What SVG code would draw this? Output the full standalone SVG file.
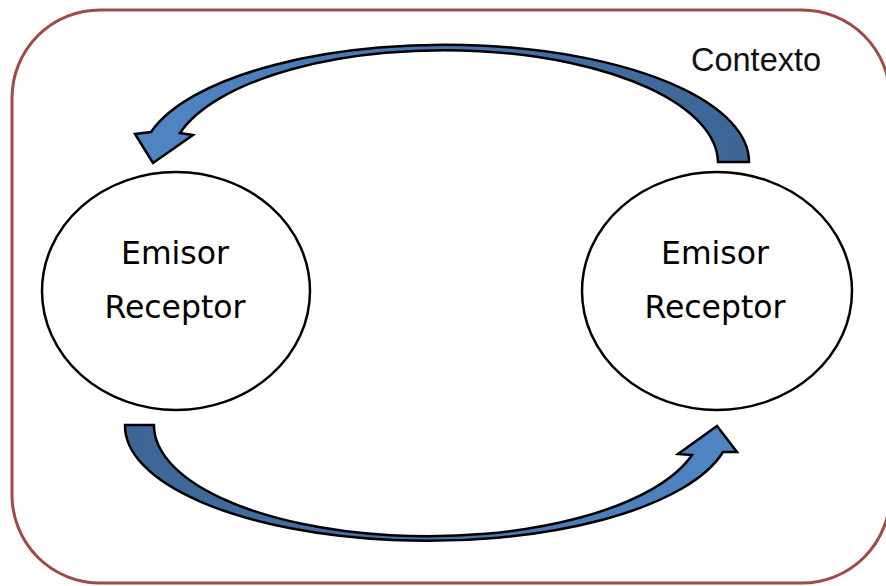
<svg xmlns="http://www.w3.org/2000/svg" width="886" height="586" viewBox="0 0 886 586">
<style>
.frame{fill:#fff;stroke:#a14a48;stroke-width:3}
.node{fill:#fff;stroke:#000;stroke-width:2.5}
.lbl{font-family:"DejaVu Sans",sans-serif;font-size:31.5px;fill:#000;text-anchor:middle}
.ctx{font-family:"Liberation Sans",Arial,sans-serif;font-size:32.5px;fill:#111}
.arr{stroke:#000;stroke-width:2.5;stroke-linejoin:miter}
</style>
<defs>
<linearGradient id="gTop" x1="0" y1="0" x2="1" y2="0">
<stop offset="0" stop-color="#5085c4"/>
<stop offset="1" stop-color="#3d6594"/>
</linearGradient>
<linearGradient id="gBot" x1="0" y1="0" x2="1" y2="0">
<stop offset="0" stop-color="#3d6594"/>
<stop offset="1" stop-color="#5085c4"/>
</linearGradient>
</defs>
<rect class="frame" x="12" y="10" width="878" height="573" rx="88" ry="88"/>
<text class="ctx" x="691" y="71">Contexto</text>
<g id="connectors">
<path class="arr" fill="url(#gTop)" d="M718,162 L749,162 A304,117 0 0 0 151,132 L135,134 L153,163 L193,135 L180,133 A274,113 0 0 1 718,162 Z"/>
<path class="arr" fill="url(#gBot)" d="M125,425 A303,115 0 0 0 723,452 L737,452 L717,426 L678,454 L692,455 A274,111 0 0 1 154,425 Z"/>
</g>
<g id="node-left">
<ellipse class="node" cx="176" cy="291" rx="134" ry="119"/>
<text class="lbl" x="175" y="264">Emisor</text>
<text class="lbl" x="175" y="318">Receptor</text>
</g>
<g id="node-right">
<ellipse class="node" cx="717" cy="291" rx="135" ry="119"/>
<text class="lbl" x="715" y="264">Emisor</text>
<text class="lbl" x="715" y="318">Receptor</text>
</g>
</svg>
